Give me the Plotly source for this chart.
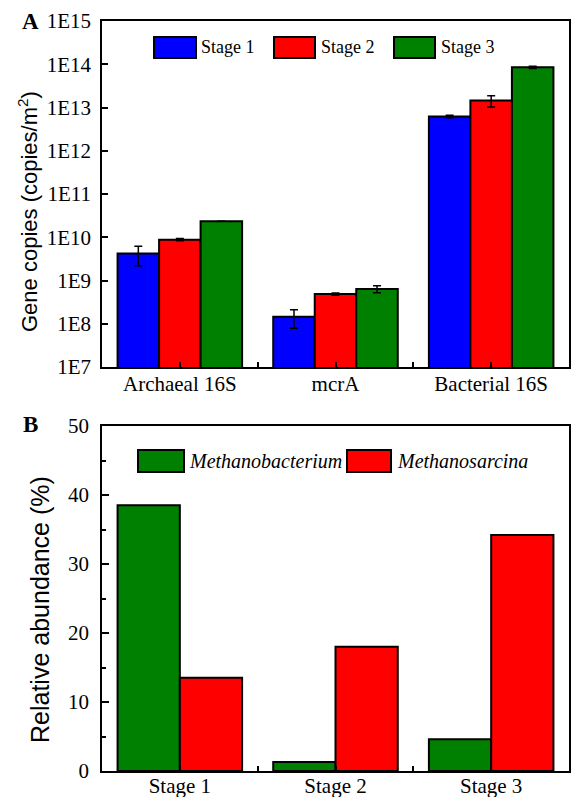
import plotly.graph_objects as go
from plotly.subplots import make_subplots

# ---- Data ----
genes = ["Archaeal 16S", "mcrA", "Bacterial 16S"]
stage_names = ["Stage 1", "Stage 2", "Stage 3"]
stage1_copies = [4.2e9, 1.45e8, 6.2e12]
stage2_copies = [8.8e9, 4.85e8, 1.45e13]
stage3_copies = [2.34e10, 6.4e8, 8.5e13]
stage1_err = [2.0e9, 0.66e8, 0.4e12]
stage2_err = [0.5e9, 0.3e8, 0.42e13]
stage3_err = [0.0, 1.2e8, 0.5e13]

stages = ["Stage 1", "Stage 2", "Stage 3"]
methanobacterium = [38.5, 1.3, 4.6]
methanosarcina = [13.5, 18.0, 34.2]

log_tickvals = [1e7, 1e8, 1e9, 1e10, 1e11, 1e12, 1e13, 1e14, 1e15]
log_ticktext = ["1E7", "1E8", "1E9", "1E10", "1E11", "1E12", "1E13", "1E14", "1E15"]

BLUE, RED, GREEN = "#0000FF", "#FF0000", "#008000"
SERIF = "Liberation Serif"
SANS = "Liberation Sans"

W, H = 571, 797
L, R, T, B = 102, 2, 21, 26
PW = W - L - R
PH = H - T - B


def px(xp):
    return (xp - L) / PW


def py(yp):
    return (H - B - yp) / PH


fig = make_subplots(rows=2, cols=1)

xpos = list(range(len(genes)))
for name, vals, errs, col in [
    (stage_names[0], stage1_copies, stage1_err, BLUE),
    (stage_names[1], stage2_copies, stage2_err, RED),
    (stage_names[2], stage3_copies, stage3_err, GREEN),
]:
    fig.add_trace(go.Bar(
        x=xpos, y=vals, name=name, marker=dict(color=col, line=dict(color="black", width=2)),
        error_y=dict(type="data", array=errs, visible=True, color="black", thickness=1.5, width=4),
        showlegend=False,
    ), row=1, col=1)

xpos2 = list(range(len(stages)))
for name, vals, col in [
    ("Methanobacterium", methanobacterium, GREEN),
    ("Methanosarcina", methanosarcina, RED),
]:
    fig.add_trace(go.Bar(
        x=xpos2, y=vals, name=name, marker=dict(color=col, line=dict(color="black", width=2)),
        showlegend=False,
    ), row=2, col=1)

top_dom = [py(367), 1.0]
bot_dom = [0.0, py(426)]

axis_common = dict(showline=True, linecolor="black", linewidth=1.5, mirror=True,
                   showgrid=False, zeroline=False, ticks="inside", tickcolor="black",
                   tickwidth=1.5, automargin=False,
                   tickfont=dict(family=SERIF, size=21, color="black"))

fig.update_layout(
    template="none",
    width=W, height=H, margin=dict(l=L, r=R, t=T, b=B, autoexpand=False),
    paper_bgcolor="white", plot_bgcolor="white", showlegend=False,
    barmode="group", bargap=0.2, bargroupgap=0,
    xaxis=dict(domain=[0, 1], range=[-0.5, 2.5], tickmode="array", tickvals=xpos, ticktext=genes,
               ticklen=5, ticklabelstandoff=-3,
               minor=dict(tickvals=[0.5, 1.5], ticks="inside", ticklen=5,
                          tickcolor="black", tickwidth=1.5), **axis_common),
    yaxis=dict(domain=top_dom, type="log", range=[7, 15], tickmode="array",
               tickvals=log_tickvals, ticktext=log_ticktext, ticklen=6, ticklabelstandoff=5,
               **axis_common),
    xaxis2=dict(domain=[0, 1], range=[-0.5, 2.5], tickmode="array", tickvals=xpos2, ticktext=stages,
                ticklen=5, ticklabelstandoff=-5,
                minor=dict(tickvals=[0.5, 1.5], ticks="inside", ticklen=5,
                           tickcolor="black", tickwidth=1.5), **axis_common),
    yaxis2=dict(domain=bot_dom, range=[0, 50], dtick=10, tick0=0, ticklen=7, ticklabelstandoff=7,
                minor=dict(dtick=5, tick0=0, ticks="inside", ticklen=4, tickcolor="black", tickwidth=1.5),
                **axis_common),
)

annotations = [
    dict(text="<b>A</b>", x=px(30), y=py(22), xref="paper", yref="paper", showarrow=False,
         xanchor="center", yanchor="middle", font=dict(family=SERIF, size=23, color="black")),
    dict(text="<b>B</b>", x=px(30), y=py(425), xref="paper", yref="paper", showarrow=False,
         xanchor="center", yanchor="middle", font=dict(family=SERIF, size=23, color="black")),
    dict(text="Gene copies (copies/m<sup>2</sup>)", x=px(28), y=py(212), xref="paper", yref="paper",
         showarrow=False, textangle=-90, xanchor="center", yanchor="middle",
         font=dict(family=SANS, size=22, color="black")),
    dict(text="Relative abundance (%)", x=px(40), y=py(610), xref="paper", yref="paper",
         showarrow=False, textangle=-90, xanchor="center", yanchor="middle",
         font=dict(family=SANS, size=25, color="black")),
]

shapes = []
# Top legend
for (x0, x1, tx, label, col) in [
    (154, 196, 199, stage_names[0], BLUE),
    (274, 315, 319, stage_names[1], RED),
    (394, 435, 439, stage_names[2], GREEN),
]:
    shapes.append(dict(type="rect", xref="paper", yref="paper", x0=px(x0), x1=px(x1),
                       y0=py(58), y1=py(37), fillcolor=col, line=dict(color="black", width=2)))
    annotations.append(dict(text=label, x=px(tx), y=py(47), xref="paper", yref="paper",
                            showarrow=False, xanchor="left", yanchor="middle",
                            font=dict(family=SERIF, size=18, color="black")))
# Bottom legend
for (x0, x1, tx, label, col) in [
    (138, 184, 187, "Methanobacterium", GREEN),
    (347, 391, 395, "Methanosarcina", RED),
]:
    shapes.append(dict(type="rect", xref="paper", yref="paper", x0=px(x0), x1=px(x1),
                       y0=py(472), y1=py(450), fillcolor=col, line=dict(color="black", width=2)))
    annotations.append(dict(text="<i>" + label + "</i>", x=px(tx), y=py(461), xref="paper",
                            yref="paper", showarrow=False, xanchor="left", yanchor="middle",
                            font=dict(family=SERIF, size=20, color="black")))

fig.update_layout(annotations=annotations, shapes=shapes)
fig.write_html(
    "out.html",
    config={"displayModeBar": False},
    post_script="document.body.style.margin='0';document.body.style.overflow='hidden';",
)
